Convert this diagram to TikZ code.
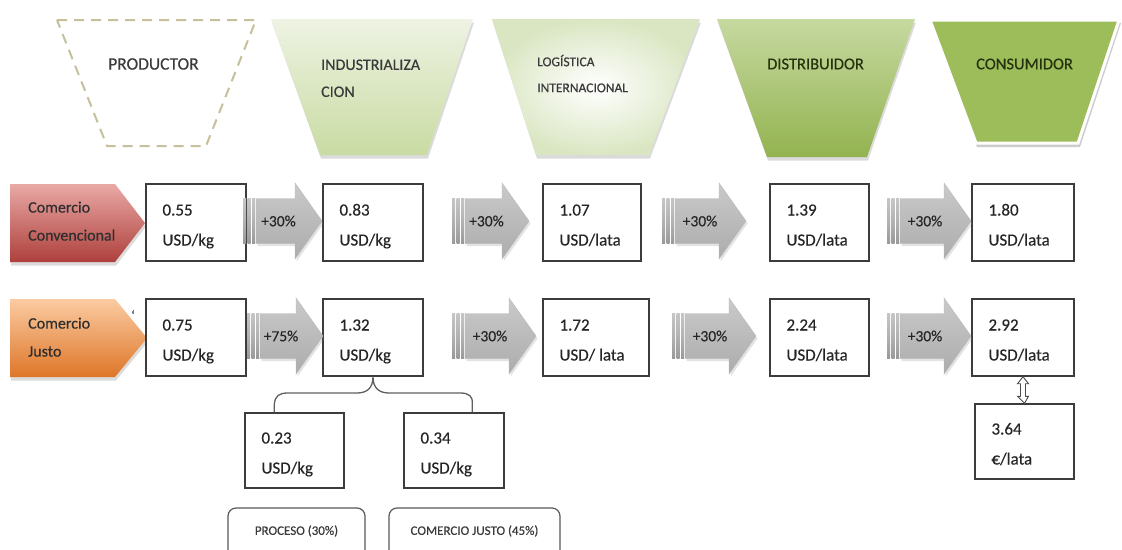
\documentclass[tikz,border=0pt]{standalone}
\usepackage{fontspec}
\setmainfont{Carlito}[UprightFeatures={FakeBold=0.35}]
\usetikzlibrary{calc,shadows}

\definecolor{txt}{HTML}{262626}
\definecolor{hdtxt}{HTML}{3A3A3A}
\definecolor{greentxt}{HTML}{25320E}
\definecolor{boxline}{HTML}{3C3C3C}
\definecolor{prodline}{HTML}{C6C09C}
\definecolor{indtop}{HTML}{EEF3E3}
\definecolor{indbot}{HTML}{C9DBA3}
\definecolor{login}{HTML}{FFFFFF}
\definecolor{logout}{HTML}{DAE6C2}
\definecolor{distop}{HTML}{C6D9A0}
\definecolor{dismid}{HTML}{A0BF5E}
\definecolor{disbot}{HTML}{93B350}
\definecolor{cons}{HTML}{9DBC5A}
\definecolor{convtop}{HTML}{E9A9A6}
\definecolor{convmid}{HTML}{CB5754}
\definecolor{convbot}{HTML}{AE403C}
\definecolor{justop}{HTML}{FBCBA2}
\definecolor{jusmid}{HTML}{F79646}
\definecolor{jusbot}{HTML}{DE7628}

% striped block arrow: #1 tail x, #2 tip x, #3 centre y, #4 label, #5 label name
\newcommand\sarrow[5]{%
  \path[stripe] (#1,#3-22.5) rectangle (#1+3,#3+22.5);
  \path[stripe] (#1+4.5,#3-22.5) rectangle (#1+7.5,#3+22.5);
  \path[stripe] (#1+9,#3-22.5) rectangle (#1+12,#3+22.5);
  \path[arrowbody] (#1+13,#3-22.5) -- (#2-27,#3-22.5) -- (#2-27,#3-38)
    -- (#2,#3) -- (#2-27,#3+38) -- (#2-27,#3+22.5) -- (#1+13,#3+22.5) -- cycle;
  \node[pct] (#5) at ({(#1+#2-14)/2+3},#3) {#4};
}

\begin{document}
\begin{tikzpicture}[x=1pt,y=-1pt,
  pbox/.style={draw=boxline, line width=1.4pt, fill=white, inner sep=0pt,
    minimum width=100pt, minimum height=77pt},
  ptext/.style={anchor=west, inner sep=0pt, align=left, text=txt,
    font=\fontsize{17}{30}\selectfont},
  pct/.style={inner sep=0pt, text=txt, font=\fontsize{15.5}{17}\selectfont},
  stripe/.style={top color=gray!45, bottom color=gray!80, middle color=gray!60},
  arrowbody/.style={draw=gray!55, line width=0.4pt, top color=gray!42,
    middle color=gray!8, bottom color=gray!65,
    drop shadow={opacity=0.22, shadow xshift=1.5pt, shadow yshift=-2.5pt}},
  hdr/.style={anchor=west, inner sep=0pt, align=left, text=hdtxt},
  tagtext/.style={anchor=west, inner sep=0pt, align=left, text=black!82,
    font=\fontsize{16}{28}\selectfont},
  brace/.style={draw=gray!75!black, line width=1.3pt},
  note/.style={draw=gray!70!black, line width=1.2pt, rounded corners=8pt},
  notetext/.style={inner sep=0pt, text=hdtxt, font=\fontsize{13}{15}\selectfont},
  softshadow/.style={drop shadow={opacity=0.28, shadow xshift=1pt, shadow yshift=-3.5pt}}
]
\useasboundingbox (0,0) rectangle (1122,549);
\fill[white] (0,0) rectangle (1122,549);

% ---- stages of the chain ----
\draw[prodline, line width=2pt, dash pattern=on 10pt off 7pt]
  (57,20) -- (256,20) -- (206,146) -- (107,146) -- cycle;
\path[top color=indtop, bottom color=indbot, softshadow]
  (271,19) -- (473,19) -- (427,155) -- (320,155) -- cycle;
\path[inner color=login, outer color=logout, softshadow]
  (492,19) -- (700,19) -- (649,155) -- (536,155) -- cycle;
\path[top color=distop, middle color=dismid, bottom color=disbot, softshadow]
  (717,19) -- (915,19) -- (867,157) -- (767,157) -- cycle;
\fill[gray!40] (931,23) -- (1121,23) -- (1080,147) -- (977,147) -- cycle;
\path[fill=cons, draw=white, line width=3pt]
  (930,20) -- (1119,20) -- (1078,143) -- (976,143) -- cycle;

\node[hdr, font=\fontsize{17.5}{20}\selectfont] (prod) at (108,64) {PRODUCTOR};
\node[hdr, font=\fontsize{16}{27}\selectfont] (ind) at (321,78)
  {\strut INDUSTRIALIZA\\\strut CION};
\node[hdr, font=\fontsize{13.5}{26}\selectfont] (logi) at (537,74)
  {\strut LOGÍSTICA\\\strut INTERNACIONAL};
\node[hdr, text=greentxt, font=\fontsize{16.5}{20}\selectfont] (dist) at (767,64) {DISTRIBUIDOR};
\node[hdr, text=greentxt, font=\fontsize{16.5}{20}\selectfont] (cons) at (976,64) {CONSUMIDOR};

% ---- trade tags ----
\path[top color=convtop, middle color=convmid, bottom color=convbot, softshadow]
  (10,184) -- (115,184) -- (145,223) -- (115,262) -- (10,262) -- cycle;
\node[tagtext] (tconv) at (28,221) {\strut Comercio\\\strut Convencional};
\path[top color=justop, middle color=jusmid, bottom color=jusbot, softshadow]
  (10,299) -- (115,299) -- (147,338) -- (115,377) -- (10,377) -- cycle;
\node[tagtext] (tjus) at (28,337) {\strut Comercio\\\strut Justo};
\node[inner sep=0pt, text=black!80, font=\fontsize{13}{13}\selectfont] (tick) at (133,315) {`};

% ---- price boxes, conventional trade ----
\node[pbox] (b11) at (196,222.5) {};
\node[pbox] (b12) at (373,222.5) {};
\node[pbox, minimum width=98pt] (b13) at (592,222.5) {};
\node[pbox, minimum width=99pt] (b14) at (819.5,222.5) {};
\node[pbox, minimum width=102pt] (b15) at (1023,222.5) {};
% ---- price boxes, fair trade ----
\node[pbox] (b21) at (196,337.5) {};
\node[pbox] (b22) at (373,337.5) {};
\node[pbox, minimum width=106pt] (b23) at (596,337.5) {};
\node[pbox, minimum width=99pt] (b24) at (819.5,337.5) {};
\node[pbox, minimum width=102pt] (b25) at (1023,337.5) {};
\node[pbox, minimum width=99pt, minimum height=75pt] (b35) at (1024.5,441.5) {};
\node[pbox, minimum width=99pt, minimum height=75pt] (s1) at (294.5,450.5) {};
\node[pbox, minimum width=100pt, minimum height=75pt] (s2) at (454,450.5) {};

\node[ptext] (t11) at ($(b11.west)+(17,2)$) {\strut 0.55\\\strut USD/kg};
\node[ptext] (t12) at ($(b12.west)+(17,2)$) {\strut 0.83\\\strut USD/kg};
\node[ptext] (t13) at ($(b13.west)+(17,2)$) {\strut 1.07\\\strut USD/lata};
\node[ptext] (t14) at ($(b14.west)+(17,2)$) {\strut 1.39\\\strut USD/lata};
\node[ptext] (t15) at ($(b15.west)+(17,2)$) {\strut 1.80\\\strut USD/lata};
\node[ptext] (t21) at ($(b21.west)+(17,2)$) {\strut 0.75\\\strut USD/kg};
\node[ptext] (t22) at ($(b22.west)+(17,2)$) {\strut 1.32\\\strut USD/kg};
\node[ptext] (t23) at ($(b23.west)+(17,2)$) {\strut 1.72\\\strut USD/ lata};
\node[ptext] (t24) at ($(b24.west)+(17,2)$) {\strut 2.24\\\strut USD/lata};
\node[ptext] (t25) at ($(b25.west)+(17,2)$) {\strut 2.92\\\strut USD/lata};
\node[ptext] (t35) at ($(b35.west)+(17,2)$) {\strut 3.64\\\strut €/lata};
\node[ptext] (ts1) at ($(s1.west)+(17,2)$) {\strut 0.23\\\strut USD/kg};
\node[ptext] (ts2) at ($(s2.west)+(17,2)$) {\strut 0.34\\\strut USD/kg};

% ---- mark-up arrows ----
\sarrow{243}{322}{221}{+30\%}{a11}
\sarrow{452}{529}{221}{+30\%}{a12}
\sarrow{662}{746}{221}{+30\%}{a13}
\sarrow{887}{971}{221}{+30\%}{a14}
\sarrow{247}{323}{336}{+75\%}{a21}
\sarrow{452}{536}{336}{+30\%}{a22}
\sarrow{672}{756}{336}{+30\%}{a23}
\sarrow{887}{971}{336}{+30\%}{a24}

% ---- USD to EUR conversion ----
\path[draw=gray!60!black, fill=white, line width=0.9pt]
  (b25.south) -- ($(b25.south)+(5.5,7)$) -- ($(b25.south)+(2.5,7)$)
  -- ($(b35.north)+(1,-7)$) -- ($(b35.north)+(4,-7)$) -- (b35.north)
  -- ($(b35.north)+(-7,-7)$) -- ($(b35.north)+(-4,-7)$)
  -- ($(b25.south)+(-2.5,7)$) -- ($(b25.south)+(-5.5,7)$) -- cycle;

% ---- split of the fair-trade premium ----
\coordinate (bl) at ($(s1.north west)+(30,0)$);
\coordinate (br) at ($(s2.north west)+(69,0)$);
\draw[brace] (bl) -- ++(0,-8) .. controls (275,396) and (279,393) .. (288,393)
  -- (357,393) .. controls (367,393) and (373,388) .. (b22.south)
  .. controls (373,388) and (379,393) .. (389,393)
  -- (460,393) .. controls (469,393) and (473,396) .. ($(br)+(0,-8)$) -- (br);

% ---- notes under the split ----
\draw[note] (228,552) -- (228,508) -- (365,508) -- (365,552);
\node[notetext] (n1) at (296.5,531) {PROCESO (30\%)};
\draw[note] (389,552) -- (389,508) -- (560,508) -- (560,552);
\node[notetext] (n2) at (474.5,531) {COMERCIO JUSTO (45\%)};
\end{tikzpicture}
\end{document}
